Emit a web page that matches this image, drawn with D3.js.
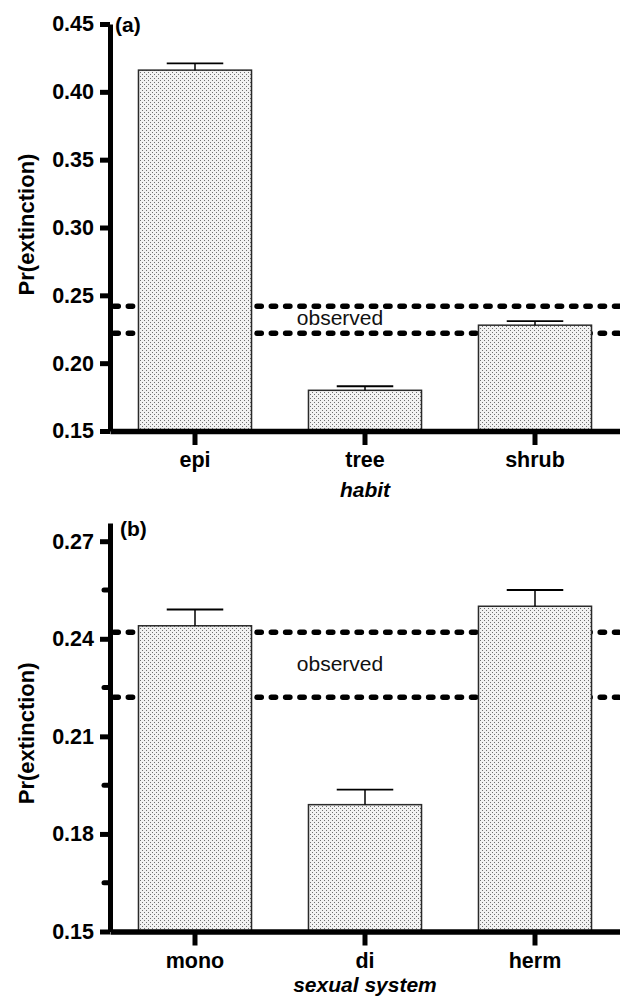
<!DOCTYPE html>
<html>
<head>
<meta charset="utf-8">
<script src="https://cdn.jsdelivr.net/npm/d3@7"></script>
<style>
  body { margin: 0; background: #fff; }
  svg { display: block; font-family: "Liberation Sans", Arial, Helvetica, sans-serif; }
</style>
</head>
<body>
<svg id="chart" width="620" height="996"></svg>
<script>
// panel (a): habit
const habitCats = ["epi", "tree", "shrub"];
const habitMeans = [0.416, 0.180, 0.228];
const habitErr = [0.005, 0.003, 0.003];
const habitTicks = [0.15, 0.20, 0.25, 0.30, 0.35, 0.40, 0.45];

// panel (b): sexual system
const sexCats = ["mono", "di", "herm"];
const sexMeans = [0.244, 0.189, 0.250];
const sexErr = [0.005, 0.0046, 0.005];
const sexTicks = [0.15, 0.18, 0.21, 0.24, 0.27];
const sexMinor = [0.165, 0.195, 0.225, 0.255];

// observed range (dotted lines)
const observed = [0.222, 0.242];

var svg = d3.select("#chart");

// stipple fill for the bars
var defs = svg.append("defs");
var pat = defs.append("pattern")
  .attr("id", "stipple")
  .attr("patternUnits", "userSpaceOnUse")
  .attr("width", 4).attr("height", 4);
pat.append("rect").attr("width", 4).attr("height", 4).attr("fill", "#f2f2f2");
pat.append("rect").attr("x", 0).attr("y", 0).attr("width", 1).attr("height", 1).attr("fill", "#707070");
pat.append("rect").attr("x", 2).attr("y", 2).attr("width", 1).attr("height", 1).attr("fill", "#707070");

var axisX0 = 110, axisX1 = 620;
var font = "Liberation Sans, Arial, sans-serif";

function drawPanel(opt) {
  var g = svg.append("g");

  var x = d3.scaleBand()
    .domain(opt.cats)
    .range([axisX0, axisX1])
    .paddingInner(0.335)
    .paddingOuter(0.1675);

  var y = d3.scaleLinear()
    .domain(opt.domain)
    .range(opt.range);

  var data = opt.cats.map((c, i) => ({cat: c, mean: opt.means[i], err: opt.errs[i]}));

  // observed dotted lines (behind the bars)
  g.selectAll("line.obs")
    .data(observed)
    .enter()
    .append("line")
    .attr("x1", axisX0 + 4)
    .attr("x2", axisX1 + 5)
    .attr("y1", d => y(d))
    .attr("y2", d => y(d))
    .attr("stroke", "#000")
    .attr("stroke-width", 5.5)
    .attr("stroke-linecap", "round")
    .attr("stroke-dasharray", "4.3,10");

  g.append("text")
    .attr("x", 340)
    .attr("y", opt.obsTextY)
    .attr("text-anchor", "middle")
    .attr("font-size", 21)
    .attr("fill", "#111")
    .text("observed");

  // bars
  g.selectAll("rect.bar")
    .data(data)
    .enter()
    .append("rect")
    .attr("class", "bar")
    .attr("x", d => x(d.cat))
    .attr("width", x.bandwidth())
    .attr("y", d => y(d.mean))
    .attr("height", d => y(opt.domain[0]) - y(d.mean))
    .attr("fill", "url(#stipple)")
    .attr("stroke", "#2a2a2a")
    .attr("stroke-width", 1.5);

  // error bars (upper only)
  var capW = x.bandwidth() / 2;
  g.selectAll("line.err")
    .data(data)
    .enter()
    .append("line")
    .attr("x1", d => x(d.cat) + x.bandwidth() / 2)
    .attr("x2", d => x(d.cat) + x.bandwidth() / 2)
    .attr("y1", d => y(d.mean))
    .attr("y2", d => y(d.mean + d.err))
    .attr("stroke", "#000")
    .attr("stroke-width", 1.5);
  g.selectAll("line.cap")
    .data(data)
    .enter()
    .append("line")
    .attr("x1", d => x(d.cat) + x.bandwidth() / 2 - capW / 2)
    .attr("x2", d => x(d.cat) + x.bandwidth() / 2 + capW / 2)
    .attr("y1", d => y(d.mean + d.err))
    .attr("y2", d => y(d.mean + d.err))
    .attr("stroke", "#000")
    .attr("stroke-width", 1.8);

  // y axis
  var yAxis = g.append("g")
    .attr("transform", "translate(" + axisX0 + ",0)")
    .call(d3.axisLeft(y).tickValues(opt.ticks).tickSize(10).tickSizeOuter(0).tickPadding(6)
      .tickFormat(d3.format(opt.fmt)));
  yAxis.select(".domain").attr("stroke-width", 5);
  yAxis.selectAll(".tick line").attr("stroke-width", 5);
  yAxis.selectAll(".tick text")
    .attr("font-size", 21.5)
    .attr("font-weight", "bold")
    .attr("font-family", font)
    .attr("fill", "#000");

  if (opt.minor) {
    g.selectAll("line.minor")
      .data(opt.minor)
      .enter()
      .append("line")
      .attr("x1", axisX0 - 6)
      .attr("x2", axisX0)
      .attr("y1", d => y(d))
      .attr("y2", d => y(d))
      .attr("stroke", "#000")
      .attr("stroke-width", 5)
      .attr("stroke-linecap", "round");
  }

  // x axis
  var xAxis = g.append("g")
    .attr("transform", "translate(0," + y(opt.domain[0]) + ")")
    .call(d3.axisBottom(x).tickSize(14).tickSizeOuter(0));
  xAxis.select(".domain").attr("stroke-width", 5.5);
  xAxis.selectAll(".tick line").attr("stroke-width", 5);
  xAxis.selectAll(".tick text")
    .attr("y", 36)
    .attr("dy", null)
    .attr("font-size", 21.5)
    .attr("font-weight", "bold")
    .attr("font-family", font)
    .attr("fill", "#000");

  // x title
  g.append("text")
    .attr("x", 365)
    .attr("y", y(opt.domain[0]) + opt.xTitleDy)
    .attr("text-anchor", "middle")
    .attr("font-size", 21)
    .attr("font-weight", "bold")
    .attr("font-style", "italic")
    .text(opt.xTitle);

  // y title
  var yMid = (opt.range[0] + y(opt.ticks[opt.ticks.length - 1])) / 2;
  g.append("text")
    .attr("transform", "translate(34," + (yMid - 3) + ") rotate(-90)")
    .attr("text-anchor", "middle")
    .attr("font-size", 22)
    .attr("font-weight", "bold")
    .text("Pr(extinction)");

  // panel letter
  g.append("text")
    .attr("x", opt.letterX)
    .attr("y", opt.letterY)
    .attr("font-size", 21)
    .attr("font-weight", "bold")
    .text(opt.letter);
}

drawPanel({
  cats: habitCats, means: habitMeans, errs: habitErr,
  ticks: habitTicks, fmt: ".2f",
  domain: [0.15, 0.45], range: [431, 24],
  obsTextY: 325, xTitle: "habit", xTitleDy: 66,
  letter: "(a)", letterX: 115, letterY: 32
});

drawPanel({
  cats: sexCats, means: sexMeans, errs: sexErr,
  ticks: sexTicks, minor: sexMinor, fmt: ".2f",
  domain: [0.15, 0.2756], range: [931.5, 523],
  obsTextY: 671, xTitle: "sexual system", xTitleDy: 60.5,
  letter: "(b)", letterX: 120, letterY: 536
});
</script>
</body>
</html>
